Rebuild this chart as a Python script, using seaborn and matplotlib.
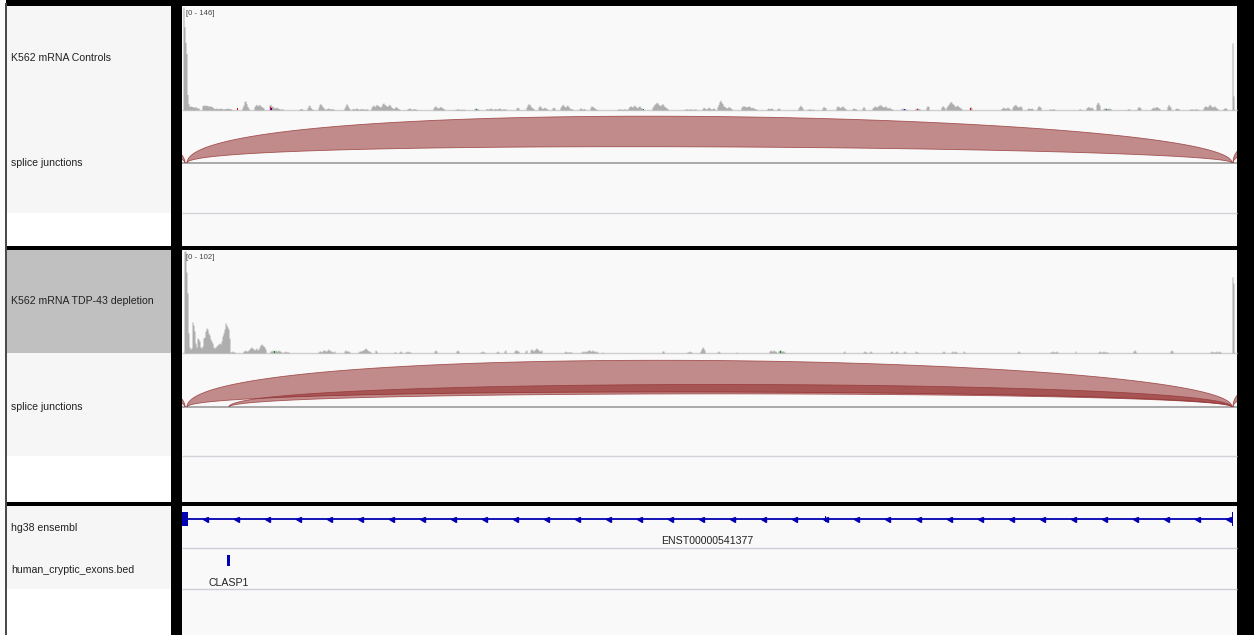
import numpy as np
import pandas as pd
import matplotlib
matplotlib.use("Agg")
import matplotlib.pyplot as plt
from matplotlib.patches import Rectangle
import seaborn as sns

# ---------------- data ----------------
track_labels = ["K562 mRNA Controls", "splice junctions",
                "K562 mRNA TDP-43 depletion", "splice junctions",
                "hg38 ensembl", "human_cryptic_exons.bed"]
view_bins = 1055            # genomic bins across the data panel
ctrl_range_max = 146
tdp_range_max = 102

# Controls coverage: run start bins and per-bin values
ctrl_seg_start = [1, 7, 20, 32, 60, 72, 87, 117, 125, 136, 144, 162, 170, 189, 225, 251, 273,
                  292, 304, 334, 344, 356, 370, 378, 397, 408, 435, 446, 470, 502, 520, 535,
                  559, 585, 595, 616, 625, 640, 654, 670, 680, 690, 719, 733, 744, 759, 764,
                  787, 819, 830, 845, 855, 867, 897, 904, 914, 921, 945, 955, 969, 985, 993,
                  1007, 1021, 1041, 1050]
ctrl_seg_vals = [
    [146, 118, 96, 80, 22, 9],
    [5, 6, 5, 5, 4, 4, 5, 3, 3, 3],
    [6, 7, 7, 6, 7, 6, 6, 5, 6, 5, 4, 3],
    [2, 2, 3, 2, 2, 2, 3, 2, 2, 1, 2, 2, 2, 3, 2, 2, 2, 1],
    [4, 7, 12, 13, 9, 5, 3],
    [5, 7, 8, 6, 7, 8, 6, 5, 4, 3],
    [7, 8, 6, 5, 4, 3, 3, 4, 3, 2, 2, 1, 1, 2],
    [1, 2, 2, 1],
    [3, 6, 7, 4, 2, 1],
    [4, 8, 9, 7, 5, 3, 2],
    [2, 2, 3, 2, 1, 2, 2, 1],
    [3, 6, 9, 7, 4, 2],
    [2, 2, 1, 2, 3, 2, 1, 1, 2, 2, 1, 2, 1, 1, 2, 1],
    [4, 6, 7, 5, 6, 8, 7, 6, 5, 4, 6, 9, 10, 8, 7, 6, 5, 7, 8, 6, 4, 3, 2, 3, 5, 4, 3, 2, 1],
    [2, 2, 3, 2, 1, 1, 2, 2, 1, 1],
    [3, 5, 6, 4, 3, 3, 4, 5, 4, 3, 2, 1],
    [1, 1, 2, 1, 1, 1, 1, 1, 1, 1],
    [2, 3, 2, 2, 1],
    [2, 2, 1, 2, 3, 2, 1, 1, 2, 2, 1, 2, 2, 3, 2, 1, 1, 2, 1, 2],
    [3, 4, 3],
    [4, 7, 9, 8, 6, 4, 3, 2],
    [4, 6, 5, 3, 2, 3, 4, 3, 2, 1],
    [3, 4, 3],
    [4, 6, 8, 7, 5, 4, 6, 7, 5, 3, 2, 2, 1],
    [2, 3, 2, 1, 2, 2],
    [4, 6, 5, 4, 3, 2, 1],
    [1, 1, 2, 1, 1, 1, 1, 2, 1, 1, 1],
    [3, 5, 6, 5, 4, 6, 7, 5, 4, 3, 5, 6, 4, 3, 2, 1],
    [4, 6, 8, 9, 11, 10, 8, 7, 6, 8, 9, 7, 5, 4, 3, 2],
    [1, 1, 2, 1, 1, 1, 2, 1, 1, 1, 1, 2],
    [2, 4, 3, 2, 1, 3, 4, 3, 2, 1, 2, 3, 2],
    [5, 8, 12, 14, 11, 9, 6, 5, 4, 3, 3, 5, 4, 3, 2],
    [4, 6, 5, 6, 5, 4, 5, 6, 5, 4, 3, 4, 3, 2, 2, 1],
    [2, 3, 2, 2, 3, 2],
    [2, 3, 2],
    [3, 5, 7, 5, 3],
    [1, 1, 2, 1, 1, 1, 1],
    [3, 5, 4, 3],
    [4, 6, 5, 4, 3, 5, 6, 4, 3, 2],
    [2, 3, 2, 2, 1],
    [3, 5, 3],
    [3, 4, 6, 5, 4, 5, 7, 6, 8, 6, 5, 4, 5, 6, 4, 3, 3, 4, 2, 2, 1],
    [2, 3, 2, 2, 2, 1],
    [2, 3, 3, 2, 2],
    [4, 6, 5],
    [4, 6, 5, 3],
    [4, 6, 8, 10, 12, 11, 9, 8, 6, 5, 6, 7, 5, 4, 3, 2],
    [3, 5, 3],
    [2, 3, 4, 3, 2, 3, 4, 3, 2],
    [4, 6, 7, 8, 6, 5, 4, 5, 6, 4],
    [2, 3, 2, 2, 3, 2],
    [4, 6, 5, 4],
    [1, 2, 1, 1, 2, 1],
    [2, 1],
    [3, 4, 5, 4, 3, 4, 3],
    [8, 11, 10, 7],
    [2, 3, 3, 2, 2, 3, 2, 2],
    [1, 2, 1],
    [3, 5, 4, 3],
    [2, 3, 4, 3, 4, 5, 4, 3, 2],
    [5, 8, 6, 4],
    [2, 3, 2, 2],
    [1, 1, 2, 1, 1, 1, 2, 1, 1, 1],
    [3, 5, 6, 5, 4, 6, 8, 7, 5, 4, 5, 6, 4, 3, 2],
    [2, 3, 3, 2],
    [95, 20],
]
# coloured mismatch bars (allele colours) in the controls coverage
ctrl_mm_pos = [55, 88, 89, 294, 461, 722, 735, 788, 924]
ctrl_mm_val = [3, 4, 3, 2, 2, 2, 2, 3, 2]
ctrl_mm_base = ["T", "T", "C", "A", "A", "C", "T", "T", "A"]

# TDP-43 depletion coverage
tdp_seg_start = [2, 48, 61, 66, 76, 88, 101, 136, 162, 176, 193, 212, 217, 223, 252, 274, 298,
                 314, 322, 332, 343, 348, 382, 399, 420, 480, 505, 518, 535, 554, 587, 596,
                 661, 681, 687, 708, 713, 721, 733, 760, 769, 781, 835, 868, 893, 916, 951,
                 988, 1028, 1050]
tdp_seg_vals = [
    [102, 102, 81, 60, 20, 6, 4, 5, 31, 28, 22, 10, 6, 15, 14, 12, 6, 5, 7, 15, 16, 22, 25,
     24, 20, 18, 14, 12, 10, 6, 5, 6, 7, 8, 9, 10, 9, 12, 17, 20, 24, 30, 28, 26, 24, 15],
    [1, 1, 2, 1, 1],
    [2, 2, 3, 2, 2],
    [3, 4, 5, 6, 5, 4, 3, 4, 5, 3],
    [4, 6, 8, 9, 8, 7, 6, 4],
    [2, 2, 3, 2, 2, 3, 2, 2, 3, 2, 2, 1],
    [1, 1, 2, 1, 1, 1],
    [1, 2, 2, 1, 2, 3, 3, 2, 2, 3, 4, 3, 2, 2, 1, 1, 2],
    [2, 3, 2, 2, 2, 1],
    [1, 2, 2, 2, 3, 3, 4, 5, 4, 3, 2, 2, 1],
    [3, 2],
    [1, 1],
    [1, 2, 1],
    [1, 1, 2, 1, 1, 1],
    [2, 3, 2],
    [2, 3, 2],
    [1, 1, 2, 1, 1],
    [1, 2, 1],
    [2, 3],
    [2, 3, 3, 2, 2],
    [2, 3],
    [3, 4, 3, 2, 3, 4, 5, 4, 3, 2, 2, 3],
    [1, 2, 1, 1, 1, 1, 1, 1],
    [1, 2, 1, 2, 1, 2, 2, 3, 3, 2, 2, 3, 2, 2, 1, 2, 1],
    [1],
    [2, 2],
    [1, 1, 2, 1, 1],
    [2, 4, 6, 5, 3],
    [1, 2, 1],
    [1],
    [2, 3, 2, 2, 3, 2, 2, 1],
    [2, 3, 3, 2, 2, 2, 1],
    [1, 2],
    [1, 2, 1, 1],
    [1, 2, 1],
    [1, 2, 1],
    [1, 2, 1],
    [1, 2, 1],
    [2, 1, 1],
    [1, 2, 1],
    [1, 2, 1, 1, 2, 1],
    [2, 1],
    [1, 2, 1],
    [1, 1, 2, 1, 1, 1, 2, 1],
    [2],
    [1, 2, 1, 1, 1, 2, 1, 1, 1, 1],
    [2, 3, 2],
    [2, 3, 2],
    [1, 2, 1, 1, 1, 1, 2, 1, 1, 2, 1],
    [76, 70],
]
tdp_mm_pos = [92, 598]
tdp_mm_val = [2, 2]
tdp_mm_base = ["A", "A"]

# Splice junctions: start/end bins, outer & inner arc heights (left, right)
ctrl_junc_start = [-70, 5, 1051]
ctrl_junc_end = [3, 1050, 1130]
ctrl_junc_outer = [(40, 22), (72, 52), (33, 30)]
ctrl_junc_inner = [(20, 10), (26, 17), (16, 14)]

tdp_junc_start = [-70, 5, 47, 1051]
tdp_junc_end = [3, 1050, 1050, 1130]
tdp_junc_outer = [(40, 22), (70, 54), (31, 29), (33, 30)]
tdp_junc_inner = [(20, 10), (22, 18), (18, 17), (16, 14)]

# Gene model (ENST00000541377, minus strand)
gene_name = "ENST00000541377"
gene_start, gene_end = 0, 1051
gene_exon_start = [0, 642.5, 1049.5]
gene_exon_len = [6, 1.2, 1.5]
gene_exon_height = [14, 6, 14]

# Cryptic exon bed feature
bed_name = "CLASP1"
bed_start, bed_end = 45, 48

# ---------------- style ----------------
sns.set_style("white")
plt.rcParams["font.family"] = ["Liberation Sans", "DejaVu Sans"]

W, H = 1254, 635
fig = plt.figure(figsize=(W / 100, H / 100), dpi=100, facecolor="black")


def px_axes(x0, y0, x1, y1, z=1):
    ax = fig.add_axes([x0 / W, 1 - y1 / H, (x1 - x0) / W, (y1 - y0) / H], zorder=z)
    ax.set_axis_off()
    ax.patch.set_alpha(0)
    return ax


bg = px_axes(0, 0, W, H, z=0)
bg.set_xlim(0, W)
bg.set_ylim(H, 0)

NX0, NX1 = 7, 171
DX0, DX1 = 182, 1237
NAME_BG = "#f6f6f6"
DATA_BG = "#f9f9f9"

# left strip + border line
bg.add_patch(Rectangle((0, 0), 6, H, color="#fbfbfb", lw=0))
bg.add_patch(Rectangle((5.4, 3), 1.5, H - 3, color="#4a4a4a", lw=0))

# name panel backgrounds
name_blocks = [(6, 213, NAME_BG), (213, 246, "white"),
               (250, 353, "#c0c0c0"), (353, 456, NAME_BG), (456, 502, "white"),
               (506, 589, NAME_BG), (589, 635, "white")]
for y0, y1, c in name_blocks:
    bg.add_patch(Rectangle((NX0, y0), NX1 - NX0, y1 - y0, color=c, lw=0))
for y0, y1 in [(6, 246), (250, 502), (506, 635)]:
    bg.add_patch(Rectangle((DX0, y0), DX1 - DX0, y1 - y0, color=DATA_BG, lw=0))

# horizontal track lines in the data panel
for y, c, lw in [(110, "#cfcfcf", 1.0), (163, "#9c9c9c", 1.2), (213, "#d2d2da", 1.0),
                 (353, "#cfcfcf", 1.0), (407, "#9c9c9c", 1.2), (456, "#d2d2da", 1.0),
                 (548, "#cdcdd8", 1.0), (589, "#cdcdd8", 1.0)]:
    bg.plot([DX0, DX1], [y, y], color=c, lw=lw, solid_capstyle="butt")

# track names
name_y = [58, 163, 301, 407, 528, 570]
for lab, y in zip(track_labels, name_y):
    bg.text(11, y, lab, fontsize=7.6, color="#222222", va="center", ha="left")

allele_colors = {"A": "#009600", "C": "#0000ff", "G": "#d17105", "T": "#ff0000"}


def expand(starts, vals):
    pos, v = [], []
    for s, seg in zip(starts, vals):
        for i, val in enumerate(seg):
            pos.append(s + i + 0.5)
            v.append(val)
    return pd.DataFrame({"pos": pos, "depth": np.array(v, dtype=float)})


def coverage(y0, y1, starts, vals, vmax, mm_pos, mm_val, mm_base):
    ax = px_axes(DX0, y0, DX1, y1, z=2)
    df = expand(starts, vals)
    sns.histplot(data=df, x="pos", weights="depth", bins=view_bins,
                 binrange=(0, view_bins), element="step", fill=True,
                 color="#aeaeae", alpha=1, linewidth=0, ax=ax)
    ax.bar(np.array(mm_pos), mm_val, width=1, align="edge",
           color=[allele_colors[b] for b in mm_base], lw=0)
    ax.set_xlim(0, view_bins)
    ax.set_ylim(0, vmax)
    ax.set_axis_off()
    ax.text(4, vmax * (1 - 6.5 / (y1 - y0)), f"[0 - {vmax}]", fontsize=5.6,
            color="#444444", va="center", ha="left")
    return ax


coverage(7, 110, ctrl_seg_start, ctrl_seg_vals, ctrl_range_max,
         ctrl_mm_pos, ctrl_mm_val, ctrl_mm_base)
coverage(251, 353, tdp_seg_start, tdp_seg_vals, tdp_range_max,
         tdp_mm_pos, tdp_mm_val, tdp_mm_base)


def bezier(x0, x1, h1, h2, n=400):
    t = np.linspace(0, 1, n)
    x = x0 * (1 - t) ** 3 + 3 * x0 * t * (1 - t) ** 2 + 3 * x1 * t ** 2 * (1 - t) + x1 * t ** 3
    y = 3 * t * (1 - t) ** 2 * h1 + 3 * t ** 2 * (1 - t) * h2
    return x, y


def junctions(y_top, y_base, starts, ends, outer, inner):
    ax = px_axes(DX0, y_top, DX1, y_base, z=3)
    for s, e, o, i in zip(starts, ends, outer, inner):
        xo, yo = bezier(s, e, *o)
        xi, yi = bezier(s, e, *i)
        xs = np.concatenate([xo, xi[::-1]])
        ys = np.concatenate([yo, yi[::-1]])
        ax.fill(xs, ys, facecolor=(140 / 255, 30 / 255, 30 / 255, 0.5),
                edgecolor=(150 / 255, 55 / 255, 55 / 255, 0.8), lw=0.6)
    ax.set_xlim(0, view_bins)
    ax.set_ylim(0, y_base - y_top)
    ax.set_axis_off()


junctions(110, 163, ctrl_junc_start, ctrl_junc_end, ctrl_junc_outer, ctrl_junc_inner)
junctions(353, 407, tdp_junc_start, tdp_junc_end, tdp_junc_outer, tdp_junc_inner)

# gene + bed track (x in bins, y in pixel rows)
ga = px_axes(DX0, 506, DX1, 635, z=3)
ga.set_xlim(0, view_bins)
ga.set_ylim(635, 506)
GENE_Y = 519
BLUE = "#0000b2"
ga.plot([gene_start, gene_end], [GENE_Y, GENE_Y], color=BLUE, lw=1.3, solid_capstyle="butt")
chev = np.arange(gene_start + 23, gene_end - 3, 31)
ga.plot(chev, np.full(len(chev), GENE_Y), ls="none", marker="<", ms=3.6,
        color=BLUE, mec=BLUE)
for s, ln, h in zip(gene_exon_start, gene_exon_len, gene_exon_height):
    ga.add_patch(Rectangle((s, GENE_Y - h / 2), ln, h, color=BLUE, lw=0))
ga.text((gene_start + gene_end) / 2, 541.5, gene_name, fontsize=7.6, color="#222222",
        ha="center", va="center")
ga.add_patch(Rectangle((bed_start, 555), bed_end - bed_start, 11, color=BLUE, lw=0))
ga.text((bed_start + bed_end) / 2, 583, bed_name, fontsize=7.6, color="#222222",
        ha="center", va="center")

fig.savefig("out.png", dpi=100, facecolor="black")
